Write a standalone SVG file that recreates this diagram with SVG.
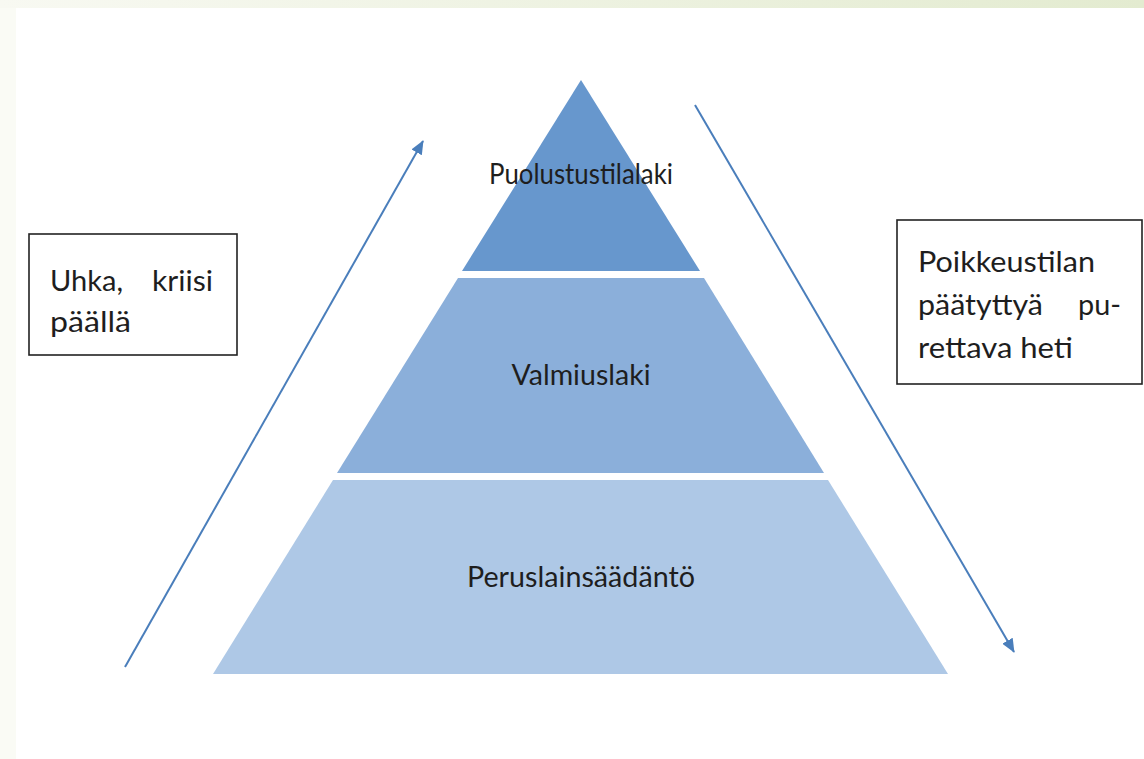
<svg xmlns="http://www.w3.org/2000/svg" width="1144" height="759" viewBox="0 0 1144 759">
<defs>
<linearGradient id="topbar" x1="0" y1="0" x2="1" y2="0">
<stop offset="0" stop-color="#f8f9f2"/>
<stop offset="1" stop-color="#e3ebd0"/>
</linearGradient>
<marker id="arrow" viewBox="0 0 14 12" refX="13" refY="6" markerWidth="14" markerHeight="12" markerUnits="userSpaceOnUse" orient="auto">
<path d="M0,0 L14,6 L0,12 z" fill="#4a7ebb"/>
</marker>
</defs>
<style>
.lbl{font-family:Lato,"Liberation Sans",sans-serif;font-size:28px;fill:#1e1e1e}
.box{fill:#ffffff;stroke:#222222;stroke-width:1.6}
.conn{stroke:#4a7ebb;stroke-width:2;fill:none}
</style>
<rect x="0" y="0" width="1144" height="759" fill="#ffffff"/>
<rect x="0" y="0" width="1144" height="8" fill="url(#topbar)"/>
<rect x="0" y="8" width="16" height="751" fill="#fafbf5"/>

<g id="tier-top">
<polygon points="581,80 700,271 462,271" fill="#6797cd"/>
<text class="lbl" x="581" y="184" text-anchor="middle" textLength="184" lengthAdjust="spacingAndGlyphs">Puolustustilalaki</text>
</g>
<g id="tier-middle">
<polygon points="458,278 704,278 824,473 337,473" fill="#8bafda"/>
<text class="lbl" x="581" y="385" text-anchor="middle" textLength="139" lengthAdjust="spacingAndGlyphs">Valmiuslaki</text>
</g>
<g id="tier-bottom">
<polygon points="333,480 828,480 948,674 213,674" fill="#aec8e6"/>
<text class="lbl" x="581" y="587" text-anchor="middle" textLength="228" lengthAdjust="spacingAndGlyphs">Peruslainsäädäntö</text>
</g>

<g id="box-left">
<rect class="box" x="29" y="234" width="208" height="121"/>
<text class="lbl" x="50" y="291" textLength="73" lengthAdjust="spacingAndGlyphs">Uhka,</text>
<text class="lbl" x="152" y="291" textLength="61" lengthAdjust="spacingAndGlyphs">kriisi</text>
<text class="lbl" x="50" y="332" textLength="81" lengthAdjust="spacingAndGlyphs">päällä</text>
</g>

<g id="box-right">
<rect class="box" x="897" y="220" width="245" height="164"/>
<text class="lbl" x="918" y="272" textLength="177" lengthAdjust="spacingAndGlyphs">Poikkeustilan</text>
<text class="lbl" x="918" y="315" textLength="125" lengthAdjust="spacingAndGlyphs">päätyttyä</text>
<text class="lbl" x="1078" y="315" textLength="43" lengthAdjust="spacingAndGlyphs">pu-</text>
<text class="lbl" x="918" y="358" textLength="155" lengthAdjust="spacingAndGlyphs">rettava heti</text>
</g>

<g id="connectors">
<line class="conn" x1="125" y1="667" x2="423" y2="141" marker-end="url(#arrow)"/>
<line class="conn" x1="695" y1="105" x2="1014" y2="652" marker-end="url(#arrow)"/>
</g>
</svg>
